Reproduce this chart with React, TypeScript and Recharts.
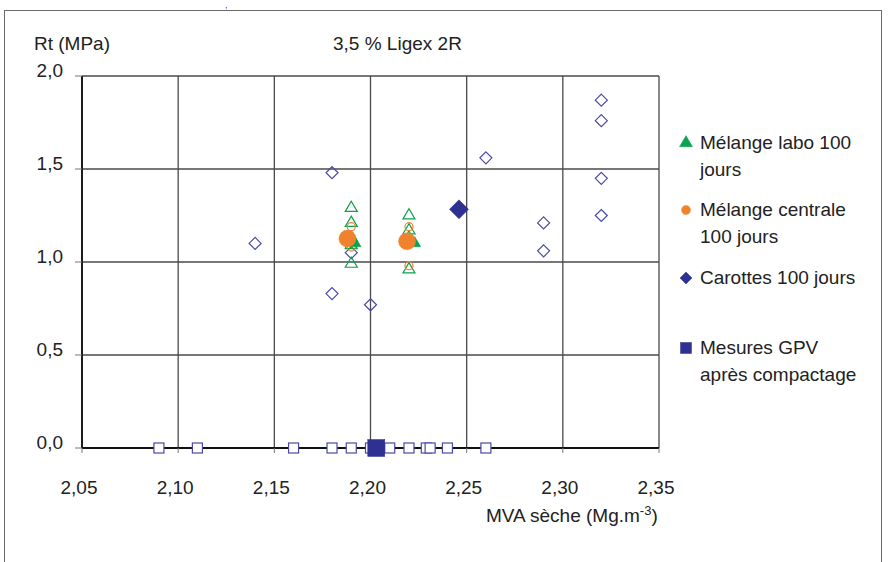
import { CartesianGrid, Scatter, ScatterChart, XAxis, YAxis } from "recharts";

type Pt = { x: number; y: number };

const xTicks = [2.05, 2.1, 2.15, 2.2, 2.25, 2.3, 2.35];
const yTicks = [0, 0.5, 1, 1.5, 2];

// Mélange labo : valeurs individuelles et moyennes
const laboPoints: Pt[] = [
  { x: 2.19, y: 1.29 },
  { x: 2.19, y: 1.21 },
  { x: 2.19, y: 1.13 },
  { x: 2.19, y: 1.09 },
  { x: 2.19, y: 0.99 },
  { x: 2.22, y: 1.25 },
  { x: 2.22, y: 1.17 },
  { x: 2.22, y: 1.13 },
  { x: 2.22, y: 0.96 }
];
const laboMeans: Pt[] = [
  { x: 2.192, y: 1.1 },
  { x: 2.223, y: 1.1 }
];

// Mélange centrale
const centralePoints: Pt[] = [
  { x: 2.19, y: 1.19 },
  { x: 2.19, y: 1.08 },
  { x: 2.22, y: 1.19 },
  { x: 2.22, y: 0.98 }
];
const centraleMeans: Pt[] = [
  { x: 2.188, y: 1.126 },
  { x: 2.219, y: 1.111 }
];

// Carottes
const carottesPoints: Pt[] = [
  { x: 2.14, y: 1.1 },
  { x: 2.18, y: 1.48 },
  { x: 2.18, y: 0.83 },
  { x: 2.19, y: 1.05 },
  { x: 2.2, y: 0.77 },
  { x: 2.26, y: 1.56 },
  { x: 2.29, y: 1.21 },
  { x: 2.29, y: 1.06 },
  { x: 2.32, y: 1.87 },
  { x: 2.32, y: 1.76 },
  { x: 2.32, y: 1.45 },
  { x: 2.32, y: 1.25 }
];
const carottesMean: Pt[] = [{ x: 2.246, y: 1.283 }];

// Mesures GPV
const gpvPoints: Pt[] = [
  { x: 2.09, y: 0 },
  { x: 2.11, y: 0 },
  { x: 2.16, y: 0 },
  { x: 2.18, y: 0 },
  { x: 2.19, y: 0 },
  { x: 2.2, y: 0 },
  { x: 2.21, y: 0 },
  { x: 2.22, y: 0 },
  { x: 2.229, y: 0 },
  { x: 2.231, y: 0 },
  { x: 2.24, y: 0 },
  { x: 2.26, y: 0 }
];
const gpvMean: Pt[] = [{ x: 2.203, y: 0 }];

const BLUE = "#2e3192";
const BLUE_LIGHT = "#4a4aa8";
const GREEN = "#0aa150";
const ORANGE = "#f0822e";
const FONT = "'Liberation Sans', Arial, sans-serif";

type MarkerProps = {
  cx?: number;
  cy?: number;
  kind: "triangle" | "circle" | "diamond" | "square";
  size: number;
  fill: string;
  stroke: string;
  strokeWidth?: number;
};

function Marker({ cx = 0, cy = 0, kind, size, fill, stroke, strokeWidth = 1.2 }: MarkerProps) {
  const r = size / 2;
  if (kind === "triangle") {
    const h = size * 0.85;
    return (
      <polygon
        points={`${cx},${cy - (h * 2) / 3} ${cx + r},${cy + h / 3} ${cx - r},${cy + h / 3}`}
        fill={fill}
        stroke={stroke}
        strokeWidth={strokeWidth}
      />
    );
  }
  if (kind === "circle") {
    return <circle cx={cx} cy={cy} r={r} fill={fill} stroke={stroke} strokeWidth={strokeWidth} />;
  }
  if (kind === "diamond") {
    return (
      <polygon
        points={`${cx},${cy - r} ${cx + r},${cy} ${cx},${cy + r} ${cx - r},${cy}`}
        fill={fill}
        stroke={stroke}
        strokeWidth={strokeWidth}
      />
    );
  }
  return (
    <rect x={cx - r} y={cy - r} width={size} height={size} fill={fill} stroke={stroke} strokeWidth={strokeWidth} />
  );
}

const YTick = (p: any) => (
  <text
    x={p.x}
    y={p.y - 6}
    textAnchor="end"
    dominantBaseline="central"
    fontFamily={FONT}
    fontSize={19}
    fill="#222"
  >
    {Number(p.payload.value).toFixed(1).replace(".", ",")}
  </text>
);

const XTick = (p: any) => (
  <text
    x={p.x - 3}
    y={p.y + 14}
    textAnchor="middle"
    dominantBaseline="central"
    fontFamily={FONT}
    fontSize={19}
    fill="#222"
  >
    {Number(p.payload.value).toFixed(2).replace(".", ",")}
  </text>
);

const legendItems = [
  { kind: "triangle" as const, size: 13, color: GREEN, lines: ["Mélange labo 100", "jours"], top: 143 },
  { kind: "circle" as const, size: 9, color: ORANGE, lines: ["Mélange centrale", "100 jours"], top: 210 },
  { kind: "diamond" as const, size: 12, color: BLUE, lines: ["Carottes 100 jours"], top: 278 },
  { kind: "square" as const, size: 11, color: BLUE, lines: ["Mesures GPV", "après compactage"], top: 348 }
];

const textStyle: React.CSSProperties = {
  position: "absolute",
  fontFamily: FONT,
  fontSize: 19,
  color: "#222",
  whiteSpace: "nowrap",
  lineHeight: "20px"
};

export default function App() {
  return (
    <div style={{ position: "absolute", left: 0, top: 0, width: 888, height: 562, background: "#fff", overflow: "hidden" }}>
      <div
        style={{
          position: "absolute",
          left: 4,
          top: 10,
          width: 876,
          height: 600,
          borderLeft: "1.5px solid #6a6a6a",
          borderTop: "1.5px solid #6a6a6a",
          borderRight: "1.5px solid #6a6a6a"
        }}
      />
      <div style={{ ...textStyle, left: 225, top: 0, color: "#6b2a9a", fontSize: 9, lineHeight: "11px" }}>,</div>
      <ScatterChart
        width={888}
        height={562}
        margin={{ top: 76, right: 229, bottom: 0, left: 0 }}
        style={{ position: "absolute", left: 0, top: 0 }}
      >
        <CartesianGrid stroke="#4a4a4a" strokeWidth={1.3} />
        <XAxis
          type="number"
          dataKey="x"
          domain={[2.05, 2.35]}
          ticks={xTicks}
          interval={0}
          height={114}
          tickSize={5}
          tickMargin={20}
          tick={XTick}
          axisLine={{ stroke: "#111", strokeWidth: 1.8 }}
          tickLine={{ stroke: "#777" }}
        />
        <YAxis
          type="number"
          dataKey="y"
          domain={[0, 2]}
          ticks={yTicks}
          interval={0}
          width={82}
          tickSize={7}
          tickMargin={12}
          tick={YTick}
          axisLine={{ stroke: "#111", strokeWidth: 1.8 }}
          tickLine={{ stroke: "#777" }}
        />
        <Scatter
          data={gpvPoints}
          isAnimationActive={false}
          shape={(p: any) => <Marker cx={p.cx} cy={p.cy} kind="square" size={10} fill="#fff" stroke={BLUE_LIGHT} />}
        />
        <Scatter
          data={carottesPoints}
          isAnimationActive={false}
          shape={(p: any) => <Marker cx={p.cx} cy={p.cy} kind="diamond" size={12} fill="none" stroke={BLUE_LIGHT} />}
        />
        <Scatter
          data={laboPoints}
          isAnimationActive={false}
          shape={(p: any) => <Marker cx={p.cx} cy={p.cy} kind="triangle" size={12} fill="none" stroke={GREEN} />}
        />
        <Scatter
          data={centralePoints}
          isAnimationActive={false}
          shape={(p: any) => <Marker cx={p.cx} cy={p.cy} kind="circle" size={8} fill="none" stroke={ORANGE} />}
        />
        <Scatter
          data={laboMeans}
          isAnimationActive={false}
          shape={(p: any) => <Marker cx={p.cx} cy={p.cy} kind="triangle" size={12} fill={GREEN} stroke={GREEN} strokeWidth={0.5} />}
        />
        <Scatter
          data={centraleMeans}
          isAnimationActive={false}
          shape={(p: any) => <Marker cx={p.cx} cy={p.cy} kind="circle" size={17} fill={ORANGE} stroke={ORANGE} strokeWidth={0.5} />}
        />
        <Scatter
          data={carottesMean}
          isAnimationActive={false}
          shape={(p: any) => <Marker cx={p.cx} cy={p.cy} kind="diamond" size={19} fill={BLUE} stroke={BLUE} strokeWidth={0.5} />}
        />
        <Scatter
          data={gpvMean}
          isAnimationActive={false}
          shape={(p: any) => <Marker cx={p.cx} cy={p.cy} kind="square" size={17} fill={BLUE} stroke={BLUE} strokeWidth={0.5} />}
        />
      </ScatterChart>

      <div style={{ ...textStyle, left: 34, top: 34 }}>Rt (MPa)</div>
      <div style={{ ...textStyle, left: 333, top: 34 }}>3,5 % Ligex 2R</div>
      <div style={{ ...textStyle, left: 486, top: 506 }}>
        MVA sèche (Mg.m<sup style={{ fontSize: 13, lineHeight: 0 }}>-3</sup>)
      </div>

      {legendItems.map((item) => (
        <div key={item.lines[0]}>
          <svg
            width={24}
            height={24}
            style={{ position: "absolute", left: 674, top: item.top - 12 }}
          >
            <Marker cx={12} cy={12} kind={item.kind} size={item.size} fill={item.color} stroke={item.color} strokeWidth={0.5} />
          </svg>
          {item.lines.map((line, i) => (
            <div key={line} style={{ ...textStyle, left: 700, top: item.top - 10 + i * 27 }}>
              {line}
            </div>
          ))}
        </div>
      ))}
    </div>
  );
}
